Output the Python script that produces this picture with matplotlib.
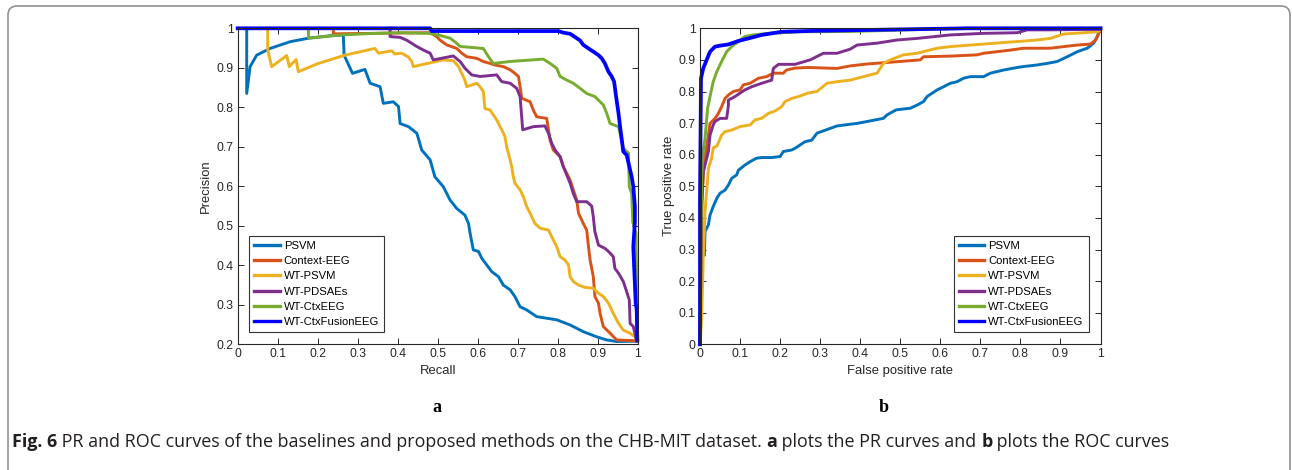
import matplotlib
matplotlib.use("Agg")
import matplotlib.pyplot as plt
from matplotlib.patches import FancyBboxPatch
from matplotlib.ticker import FormatStrFormatter, MultipleLocator

plt.rcParams["font.family"] = ["Liberation Sans", "DejaVu Sans"]

methods = ["PSVM", "Context-EEG", "WT-PSVM", "WT-PDSAEs", "WT-CtxEEG", "WT-CtxFusionEEG"]
colors = ["#0072BD", "#D95319", "#EDB120", "#7E2F8E", "#77AC30", "#0000FF"]
widths = [2.1, 2.1, 2.1, 2.1, 2.1, 2.7]

# ---- PR curves (recall, precision) ----
pr_psvm_r = [0.0225, 0.0225, 0.031, 0.0475, 0.081, 0.131, 0.177, 0.231, 0.264, 0.266, 0.287,
             0.318, 0.331, 0.356, 0.364, 0.389, 0.402, 0.406, 0.427, 0.448, 0.46, 0.481, 0.493,
             0.514, 0.531, 0.5475, 0.568, 0.577, 0.581, 0.589, 0.602, 0.61, 0.6225, 0.635,
             0.652, 0.664, 0.681, 0.693, 0.706, 0.7225, 0.7475, 0.7725, 0.7975, 0.831, 0.864,
             0.8975, 0.9225, 0.9475, 0.9975]
pr_psvm_p = [1.0, 0.835, 0.903, 0.932, 0.949, 0.966, 0.975, 0.981, 0.983, 0.932, 0.886,
             0.896, 0.861, 0.852, 0.810, 0.814, 0.802, 0.759, 0.751, 0.734, 0.692, 0.667, 0.624,
             0.599, 0.565, 0.544, 0.527, 0.506, 0.481, 0.439, 0.435, 0.418, 0.401, 0.384,
             0.371, 0.350, 0.338, 0.321, 0.295, 0.287, 0.270, 0.266, 0.262, 0.249, 0.232,
             0.219, 0.211, 0.207, 0.208]

pr_ctx_r = [0.239, 0.239, 0.481, 0.4975, 0.506, 0.5225, 0.5475, 0.56, 0.5725, 0.5975, 0.614,
            0.631, 0.643, 0.664, 0.681, 0.693, 0.702, 0.706, 0.71, 0.731, 0.739, 0.7475, 0.7725,
            0.777, 0.781, 0.789, 0.806, 0.814, 0.831, 0.839, 0.8475, 0.852, 0.864, 0.8725,
            0.877, 0.881, 0.889, 0.891, 0.893, 0.902, 0.906, 0.914, 0.931, 0.9475, 0.9975]
pr_ctx_p = [1.0, 0.986, 0.989, 0.979, 0.970, 0.958, 0.949, 0.937, 0.928, 0.924, 0.916,
            0.911, 0.907, 0.903, 0.895, 0.886, 0.878, 0.852, 0.823, 0.814, 0.793, 0.776, 0.772,
            0.743, 0.717, 0.692, 0.675, 0.650, 0.616, 0.591, 0.565, 0.532, 0.506, 0.489,
            0.447, 0.4135, 0.371, 0.346, 0.321, 0.304, 0.278, 0.245, 0.228, 0.211, 0.209]

pr_wtpsvm_r = [0.075, 0.075, 0.085, 0.1225, 0.129, 0.146, 0.1515, 0.2015, 0.268, 0.343, 0.352,
               0.385, 0.393, 0.41, 0.427, 0.435, 0.439, 0.514, 0.539, 0.552, 0.56, 0.568,
               0.5725, 0.5975, 0.606, 0.614, 0.618, 0.631, 0.639, 0.6475, 0.66, 0.668, 0.6725,
               0.681, 0.685, 0.689, 0.693, 0.706, 0.714, 0.7225, 0.731, 0.743, 0.756, 0.777,
               0.785, 0.7975, 0.806, 0.818, 0.827, 0.831, 0.839, 0.852, 0.8685, 0.889, 0.902,
               0.914, 0.927, 0.939, 0.952, 0.964, 0.981, 0.993, 0.9975]
pr_wtpsvm_p = [1.0, 0.945, 0.903, 0.931, 0.903, 0.921, 0.89, 0.911, 0.932, 0.949, 0.937,
               0.943, 0.935, 0.937, 0.927, 0.916, 0.903, 0.92, 0.918, 0.903, 0.886, 0.869,
               0.852, 0.861, 0.852, 0.840, 0.797, 0.793, 0.781, 0.768, 0.743, 0.726, 0.70,
               0.667, 0.650, 0.624, 0.608, 0.591, 0.574, 0.5485, 0.532, 0.506, 0.494, 0.489,
               0.4725, 0.447, 0.422, 0.4135, 0.401, 0.371, 0.359, 0.350, 0.344, 0.342, 0.329,
               0.321, 0.304, 0.278, 0.253, 0.236, 0.228, 0.219, 0.209]

pr_pdsae_r = [0.381, 0.381, 0.406, 0.4225, 0.435, 0.4475, 0.464, 0.481, 0.489, 0.539, 0.556,
              0.568, 0.585, 0.606, 0.6475, 0.66, 0.681, 0.6975, 0.706, 0.7125, 0.739, 0.768,
              0.777, 0.785, 0.7935, 0.806, 0.814, 0.8225, 0.831, 0.839, 0.8475, 0.8725, 0.885,
              0.889, 0.893, 0.902, 0.918, 0.927, 0.939, 0.943, 0.952, 0.964, 0.9725, 0.979,
              0.981, 0.989, 0.9975]
pr_pdsae_p = [1.0, 0.979, 0.977, 0.970, 0.962, 0.954, 0.945, 0.937, 0.920, 0.930, 0.916,
              0.899, 0.882, 0.878, 0.882, 0.865, 0.861, 0.848, 0.827, 0.743, 0.751, 0.753,
              0.734, 0.709, 0.692, 0.675, 0.650, 0.629, 0.608, 0.582, 0.561, 0.561, 0.550,
              0.523, 0.485, 0.451, 0.443, 0.435, 0.422, 0.392, 0.380, 0.359, 0.333, 0.312,
              0.253, 0.245, 0.207]

pr_wtctx_r = [0.177, 0.177, 0.256, 0.339, 0.406, 0.481, 0.5015, 0.531, 0.5475, 0.556, 0.614,
              0.627, 0.639, 0.681, 0.764, 0.781, 0.7975, 0.806, 0.8225, 0.839, 0.856, 0.8725,
              0.893, 0.914, 0.9225, 0.931, 0.952, 0.964, 0.977, 0.979, 0.985, 0.9875, 0.9875,
              0.996, 0.998, 1.0]
pr_wtctx_p = [1.0, 0.975, 0.983, 0.987, 0.989, 0.987, 0.983, 0.975, 0.962, 0.954, 0.949,
              0.928, 0.911, 0.916, 0.922, 0.911, 0.899, 0.878, 0.869, 0.861, 0.848, 0.835,
              0.827, 0.806, 0.785, 0.759, 0.751, 0.696, 0.684, 0.599, 0.582, 0.515, 0.51,
              0.48, 0.29, 0.21]

pr_fusion_r = [0.0, 0.481, 0.485, 0.8015, 0.814, 0.831, 0.8475, 0.856, 0.864, 0.877, 0.889,
               0.902, 0.91, 0.918, 0.927, 0.935, 0.941, 0.946, 0.952, 0.956, 0.964, 0.9725,
               0.979, 0.985, 0.989, 0.993, 0.993, 0.989, 0.995, 0.9975, 0.999]
pr_fusion_p = [1.0, 1.0, 0.993, 0.993, 0.989, 0.986, 0.975, 0.969, 0.958, 0.949, 0.941,
               0.932, 0.924, 0.911, 0.890, 0.878, 0.865, 0.827, 0.785, 0.751, 0.688, 0.679,
               0.650, 0.624, 0.599, 0.549, 0.51, 0.447, 0.304, 0.287, 0.211]

# ---- ROC curves (fpr, tpr) ----
roc_psvm_f = [0.011, 0.0125, 0.021, 0.025, 0.033, 0.042, 0.05, 0.0625, 0.071, 0.079, 0.0915,
              0.096, 0.112, 0.125, 0.1415, 0.154, 0.179, 0.2, 0.208, 0.229, 0.237, 0.262, 0.279,
              0.292, 0.342, 0.392, 0.417, 0.458, 0.467, 0.49, 0.525, 0.542, 0.558, 0.567, 0.592,
              0.608, 0.625, 0.642, 0.658, 0.675, 0.708, 0.725, 0.758, 0.792, 0.808, 0.842, 0.867,
              0.892, 0.917, 0.942, 0.967, 0.983, 0.992, 0.996, 1.0]
roc_psvm_t = [0.283, 0.357, 0.378, 0.409, 0.436, 0.462, 0.478, 0.488, 0.504, 0.525, 0.536,
              0.551, 0.567, 0.578, 0.589, 0.591, 0.591, 0.594, 0.61, 0.615, 0.62, 0.641, 0.646,
              0.668, 0.691, 0.699, 0.705, 0.715, 0.726, 0.742, 0.747, 0.757, 0.768, 0.784, 0.805,
              0.815, 0.826, 0.831, 0.842, 0.847, 0.847, 0.858, 0.868, 0.876, 0.879, 0.884, 0.889,
              0.895, 0.910, 0.926, 0.937, 0.953, 0.974, 0.989, 1.0]

roc_ctx_f = [0.0, 0.003, 0.005, 0.0083, 0.0125, 0.021, 0.025, 0.0375, 0.046, 0.054, 0.0625,
             0.071, 0.083, 0.1, 0.108, 0.125, 0.146, 0.166, 0.183, 0.208, 0.216, 0.237, 0.27,
             0.342, 0.375, 0.417, 0.458, 0.55, 0.558, 0.625, 0.692, 0.708, 0.775, 0.808, 0.875,
             0.908, 0.942, 0.975, 0.988, 0.996, 1.0]
roc_ctx_t = [0.0, 0.25, 0.45, 0.536, 0.594, 0.662, 0.699, 0.715, 0.731, 0.752, 0.778,
             0.789, 0.8, 0.805, 0.821, 0.826, 0.842, 0.847, 0.858, 0.858, 0.868, 0.874, 0.876,
             0.873, 0.881, 0.887, 0.891, 0.9, 0.91, 0.912, 0.916, 0.921, 0.931, 0.937, 0.937,
             0.942, 0.947, 0.950, 0.963, 0.984, 0.995]

roc_wtpsvm_f = [0.0, 0.004, 0.006, 0.008, 0.0125, 0.0166, 0.021, 0.029, 0.033, 0.042, 0.054,
                0.0625, 0.079, 0.1, 0.125, 0.137, 0.154, 0.171, 0.187, 0.204, 0.212, 0.229,
                0.246, 0.27, 0.292, 0.317, 0.342, 0.375, 0.408, 0.442, 0.458, 0.475, 0.508,
                0.542, 0.558, 0.592, 0.625, 0.675, 0.708, 0.758, 0.792, 0.842, 0.875, 0.908,
                0.958, 0.992, 1.0]
roc_wtpsvm_t = [0.0, 0.082, 0.167, 0.272, 0.42, 0.483, 0.557, 0.589, 0.622, 0.627, 0.662,
                0.673, 0.678, 0.689, 0.694, 0.71, 0.715, 0.731, 0.738, 0.752, 0.768, 0.778,
                0.784, 0.795, 0.8, 0.826, 0.831, 0.836, 0.847, 0.858, 0.889, 0.9, 0.916,
                0.921, 0.926, 0.937, 0.942, 0.947, 0.950, 0.955, 0.958, 0.963, 0.968, 0.982,
                0.986, 0.989, 0.995]

roc_pdsae_f = [0.0, 0.003, 0.004, 0.008, 0.0125, 0.021, 0.025, 0.033, 0.0375, 0.05, 0.0666,
               0.071, 0.071, 0.0874, 0.1, 0.112, 0.129, 0.154, 0.179, 0.183, 0.196, 0.237,
               0.275, 0.308, 0.342, 0.375, 0.392, 0.442, 0.492, 0.542, 0.625, 0.708, 0.792,
               0.817, 0.875, 1.0]
roc_pdsae_t = [0.0, 0.3, 0.441, 0.546, 0.567, 0.61, 0.662, 0.694, 0.705, 0.715, 0.715,
               0.757, 0.773, 0.784, 0.795, 0.805, 0.815, 0.826, 0.836, 0.873, 0.886, 0.886,
               0.9, 0.921, 0.921, 0.934, 0.947, 0.953, 0.963, 0.968, 0.979, 0.984, 0.986,
               0.995, 0.995, 0.997]

roc_wtctx_f = [0.0, 0.002, 0.004, 0.008, 0.0125, 0.019, 0.025, 0.033, 0.042, 0.054, 0.0666,
               0.079, 0.096, 0.112, 0.133, 0.171, 0.254, 0.375, 0.667, 1.0]
roc_wtctx_t = [0.0, 0.3, 0.536, 0.61, 0.652, 0.747, 0.784, 0.831, 0.863, 0.895, 0.926,
               0.942, 0.958, 0.974, 0.979, 0.984, 0.989, 0.99, 1.0, 1.0]

roc_fusion_f = [0.0, 0.0, 0.0025, 0.008, 0.0166, 0.025, 0.0375, 0.05, 0.071, 0.096, 0.121,
                0.154, 0.204, 0.287, 0.667, 1.0]
roc_fusion_t = [0.0, 0.462, 0.842, 0.873, 0.9, 0.926, 0.942, 0.945, 0.949, 0.96, 0.968,
                0.979, 0.989, 0.992, 1.0, 1.0]

pr_curves = [(pr_psvm_r, pr_psvm_p), (pr_ctx_r, pr_ctx_p), (pr_wtpsvm_r, pr_wtpsvm_p),
             (pr_pdsae_r, pr_pdsae_p), (pr_wtctx_r, pr_wtctx_p), (pr_fusion_r, pr_fusion_p)]
roc_curves = [(roc_psvm_f, roc_psvm_t), (roc_ctx_f, roc_ctx_t), (roc_wtpsvm_f, roc_wtpsvm_t),
              (roc_pdsae_f, roc_pdsae_t), (roc_wtctx_f, roc_wtctx_t), (roc_fusion_f, roc_fusion_t)]

W, H = 1292, 470
fig = plt.figure(figsize=(W / 100, H / 100), dpi=100)

# page frame with rounded top corners
frame = FancyBboxPatch((8 / W, -0.2), 1282 / W, (H - 6) / H + 0.2,
                       boxstyle="round,pad=0,rounding_size=0.007", transform=fig.transFigure,
                       fill=False, edgecolor="#909090", linewidth=1.2, mutation_aspect=W / H)
fig.patches.append(frame)

ax1 = fig.add_axes([237.7 / W, 1 - 344.3 / H, 400 / W, 316 / H])
ax2 = fig.add_axes([700 / W, 1 - 344.3 / H, 400.5 / W, 316 / H])

for (x, y), name, c, lw in zip(pr_curves, methods, colors, widths):
    ax1.plot(x, y, color=c, lw=lw, label=name, clip_on=False)
for (x, y), name, c, lw in zip(roc_curves, methods, colors, widths):
    ax2.plot(x, y, color=c, lw=lw, label=name, clip_on=False)

def style(ax, ylo):
    ax.set_xlim(0, 1)
    ax.set_ylim(ylo, 1)
    ax.xaxis.set_major_locator(MultipleLocator(0.1))
    ax.yaxis.set_major_locator(MultipleLocator(0.1))
    ax.xaxis.set_major_formatter(FormatStrFormatter("%g"))
    ax.yaxis.set_major_formatter(FormatStrFormatter("%g"))
    ax.tick_params(direction="in", top=True, right=True, length=4, width=0.7,
                   labelsize=8.8, colors="#262626", pad=3)
    for s in ax.spines.values():
        s.set_linewidth(0.8)
        s.set_color("#262626")

style(ax1, 0.2)
style(ax2, 0.0)
ax1.set_xlabel("Recall", fontsize=9.4, color="#262626", labelpad=3)
ax1.set_ylabel("Precision", fontsize=9.4, color="#262626", labelpad=3)
ax2.set_xlabel("False positive rate", fontsize=9.4, color="#262626", labelpad=3)
ax2.set_ylabel("True positive rate", fontsize=9.4, color="#262626", labelpad=3)

leg_kw = dict(fontsize=8.1, frameon=True, fancybox=False, edgecolor="black",
              handlelength=2.25, handletextpad=0.36, labelspacing=0.47, borderpad=0.45,
              borderaxespad=0)
l1 = ax1.legend(loc="lower left", bbox_to_anchor=(0.029, 0.038), **leg_kw)
l2 = ax2.legend(loc="lower right", bbox_to_anchor=(0.9705, 0.038), **leg_kw)
for lg in (l1, l2):
    lg.get_frame().set_linewidth(0.8)
    for line in lg.get_lines():
        line.set_linewidth(2.4)

fig.text(437 / W, 1 - 408 / H, "a", ha="center", va="center", fontsize=13,
         fontweight="bold", family="Liberation Serif")
fig.text(884 / W, 1 - 408 / H, "b", ha="center", va="center", fontsize=13,
         fontweight="bold", family="Liberation Serif")

# caption, mixed bold / regular pieces placed one after another
caption = [("Fig. 6", "bold"), (" PR and ROC curves of the baselines and proposed methods on the CHB-MIT dataset. ", "normal"),
           ("a", "bold"), (" plots the PR curves and ", "normal"), ("b", "bold"), (" plots the ROC curves", "normal")]
renderer = fig.canvas.get_renderer()
x = 12 / W
for txt, wt in caption:
    t = fig.text(x, 1 - 442 / H, txt, fontsize=12.9, fontweight=wt, family="Open Sans",
                 va="center", ha="left", color="#231f20")
    bb = t.get_window_extent(renderer)
    x += bb.width / W

fig.savefig("out.png", dpi=100)
